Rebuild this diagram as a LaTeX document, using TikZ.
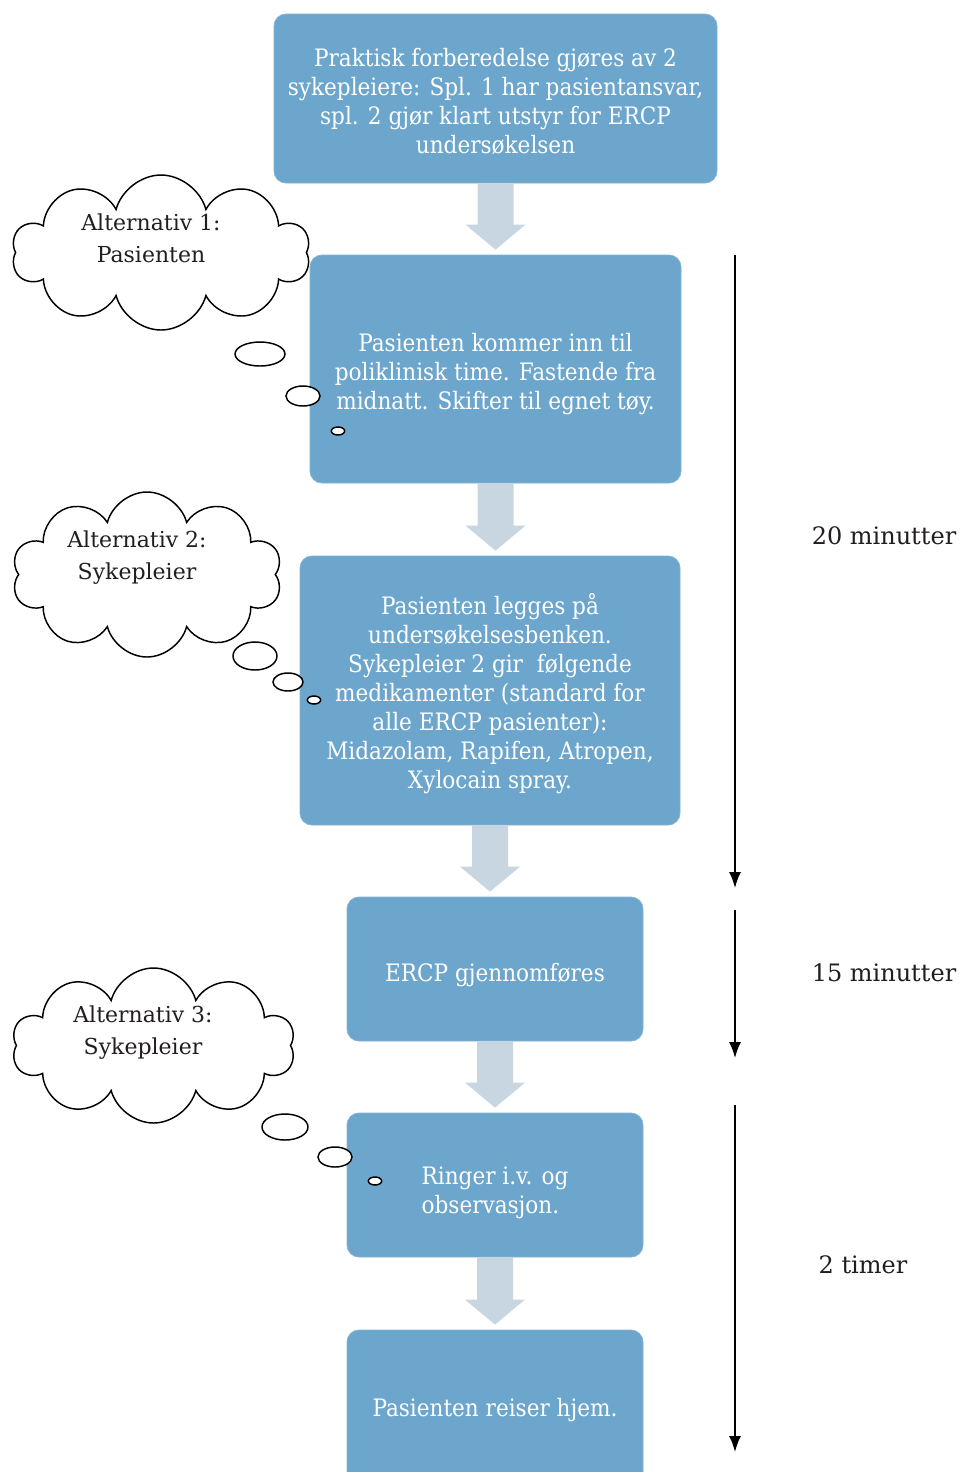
\documentclass[tikz,border=0pt]{standalone}
\usepackage{fontspec}
\setmainfont{DejaVu Serif}
\newfontfamily\boxfont{DejaVu Serif Condensed}
\usetikzlibrary{shapes.symbols,shapes.geometric,arrows.meta,calc}
\definecolor{boxblue}{RGB}{108,166,205}
\definecolor{arrfill}{RGB}{200,214,226}
\definecolor{txtdark}{RGB}{34,30,30}
\tikzset{
  stepbox/.style={draw=boxblue!85!white, line width=0.6pt, fill=boxblue, rounded corners=9pt, text=white,
    font=\boxfont\fontsize{18}{21.75}\selectfont, align=center, inner sep=0pt},
  thought/.style={cloud, cloud puffs=10, cloud ignores aspect, draw=black, line width=1.1pt, fill=white, inner sep=0pt},
  bubble/.style={ellipse, draw=black, line width=1.1pt, fill=white, inner sep=0pt},
  cloudtxt/.style={text=txtdark, font=\fontsize{16.5}{24}\selectfont, align=center},
  timetxt/.style={text=txtdark, font=\fontsize{18}{20}\selectfont},
  timearrow/.style={line width=1.2pt, -{Latex[length=12pt,width=9pt]}},
}
\newcommand{\lowered}[3][c]{\raisebox{-#2}[\height][\depth]{\begin{tabular}{@{}#1@{}}#3\end{tabular}}}
\newcommand{\blockarrow}[2]{%
  \fill[arrfill] let \p1=(#1.south), \p2=(#2.north) in
    (\x1-13.5pt,\y1) -- (\x1+13.5pt,\y1) -- (\x1+13.5pt,\y2+22.5pt) -- (\x1+22.5pt,\y2+22.5pt)
    -- (\x1,\y2+3.75pt) -- (\x1-22.5pt,\y2+22.5pt) -- (\x1-13.5pt,\y2+22.5pt) -- cycle;}
\begin{document}
\begin{tikzpicture}[x=0.75pt,y=-0.75pt]
\clip (0,0) rectangle (961,1472);
\fill[white] (0,0) rectangle (961,1472);

% boxes
\node[stepbox, minimum width=332.25pt, minimum height=126.75pt] (b1) at (495.5,98.5)
  {\lowered{4.5pt}{Praktisk forberedelse gjøres av 2\\sykepleiere: Spl. 1 har pasientansvar,\\spl. 2 gjør klart utstyr for ERCP\\undersøkelsen}};
\node[stepbox, minimum width=278.25pt, minimum height=171pt] (b2) at (495.5,369)
  {\lowered{4.5pt}{Pasienten kommer inn til\\poliklinisk time. Fastende fra\\midnatt. Skifter til egnet tøy.}};
\node[stepbox, minimum width=285pt, minimum height=201.75pt] (b3) at (490,690.5)
  {\lowered{3.5pt}{Pasienten legges på\\undersøkelsesbenken.\\Sykepleier 2 gir\ \ følgende\\medikamenter (standard for\\alle ERCP pasienter):\\Midazolam, Rapifen, Atropen,\\Xylocain spray.}};
\node[stepbox, minimum width=222pt, minimum height=108pt] (b4) at (495,969)
  {\lowered{5pt}{ERCP gjennomføres}};
\node[stepbox, minimum width=222pt, minimum height=108pt] (b5) at (495,1185)
  {\lowered[l]{6.5pt}{Ringer i.v. og\\observasjon.}};
\node[stepbox, minimum width=222pt, minimum height=120pt] (b6) at (495,1410)
  {Pasienten reiser hjem.};

% block arrows
\blockarrow{b1}{b2}
\blockarrow{b2}{b3}
\blockarrow{b3}{b4}
\blockarrow{b4}{b5}
\blockarrow{b5}{b6}

% clouds
\node[thought, minimum width=223.5pt, minimum height=116.25pt] (c1) at (161,252.5) {};
\node[cloudtxt] (c1t) at (151,238) {Alternativ 1:\\Pasienten};
\node[bubble, minimum width=37.5pt, minimum height=18pt] (c1a) at (260,354) {};
\node[bubble, minimum width=25.5pt, minimum height=15pt] (c1b) at (303,396) {};
\node[bubble, minimum width=10pt, minimum height=6pt] (c1c) at (338,431) {};

\node[thought, minimum width=202.5pt, minimum height=123.75pt] (c2) at (147,574.5) {};
\node[cloudtxt] (c2t) at (137,558) {Alternativ 2:\\Sykepleier};
\node[bubble, minimum width=33pt, minimum height=21pt] (c2a) at (255,656) {};
\node[bubble, minimum width=22.5pt, minimum height=13.5pt] (c2b) at (288,682) {};
\node[bubble, minimum width=10pt, minimum height=6pt] (c2c) at (314,700) {};

\node[thought, minimum width=212.25pt, minimum height=116.25pt] (c3) at (153.5,1045.5) {};
\node[cloudtxt] (c3t) at (143,1033) {Alternativ 3:\\Sykepleier};
\node[bubble, minimum width=34.5pt, minimum height=19.5pt] (c3a) at (285,1127) {};
\node[bubble, minimum width=25.5pt, minimum height=15pt] (c3b) at (335,1157) {};
\node[bubble, minimum width=10pt, minimum height=6pt] (c3c) at (375,1181) {};

% time arrows
\coordinate (t1s) at (735,255);
\coordinate (t1e) at (735,888);
\coordinate (t2s) at (735,910);
\coordinate (t2e) at (735,1058);
\coordinate (t3s) at (735,1105);
\coordinate (t3e) at (735,1452);
\draw[timearrow] (t1s) -- (t1e);
\draw[timearrow] (t2s) -- (t2e);
\draw[timearrow] (t3s) -- (t3e);
\node[timetxt] (l1) at (884,536) {20 minutter};
\node[timetxt] (l2) at (884,973) {15 minutter};
\node[timetxt] (l3) at (863,1265) {2 timer};
\end{tikzpicture}
\end{document}
